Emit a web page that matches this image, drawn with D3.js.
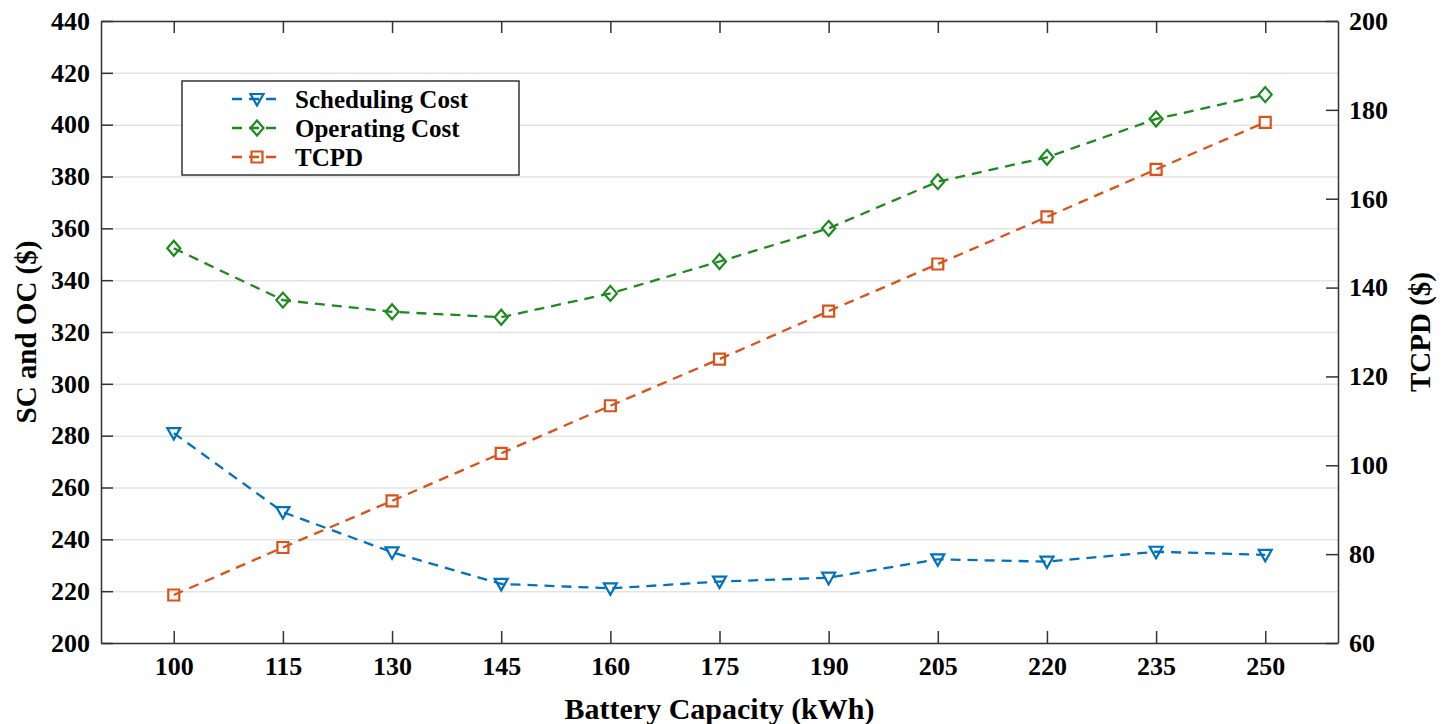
<!DOCTYPE html>
<html>
<head>
<meta charset="utf-8">
<script src="https://cdn.jsdelivr.net/npm/d3@7"></script>
<style>
    body { margin: 0; background: #fff; }
    svg { display: block; }
    text { font-family: "Liberation Serif", "Times New Roman", serif; font-weight: bold; fill: #000; }
</style>
</head>
<body>
<div id="chart"></div>
<script>
// battery capacity (kWh)
var capacity = [100, 115, 130, 145, 160, 175, 190, 205, 220, 235, 250];

// left axis ($)
var schedulingCost = [281, 250.5, 235, 222.8, 221.1, 223.7, 225.2, 232.3, 231.4, 235.2, 234];
var operatingCost = [352.3, 332.3, 327.8, 325.7, 334.9, 347.2, 360, 378, 387.4, 402.2, 411.6];

// right axis ($)
var tcpd = [70.8, 81.5, 92, 102.7, 113.4, 123.9, 134.7, 145.3, 155.9, 166.6, 177.2];

var xTicks = [100, 115, 130, 145, 160, 175, 190, 205, 220, 235, 250];
var leftTicks = d3.range(200, 441, 20);
var rightTicks = d3.range(60, 201, 20);

var W = 1448, H = 724,
    margin = { top: 21, right: 110, bottom: 81, left: 101 },
    width = W - margin.left - margin.right,
    height = H - margin.top - margin.bottom,
    tickLen = 12;

var colors = { sc: '#0072bd', oc: '#1e8a1e', tcpd: '#d95319' };

var svg = d3.select('#chart').append('svg')
    .attr('width', W)
    .attr('height', H);

var g = svg.append('g')
    .attr('transform', 'translate(' + margin.left + ',' + margin.top + ')');

var x = d3.scaleLinear().domain([90, 260]).range([0, width]);
var yL = d3.scaleLinear().domain([200, 440]).range([height, 0]);
var yR = d3.scaleLinear().domain([60, 200]).range([height, 0]);

// horizontal grid on left ticks
g.append('g')
    .attr('class', 'grid')
    .call(d3.axisLeft(yL).tickValues(leftTicks).tickSize(-width).tickFormat(''))
    .call(function (s) {
        s.select('.domain').remove();
        s.selectAll('line').attr('stroke', '#e3e3e3').attr('stroke-width', 1.5);
    });

function styleAxis(s, fontSize) {
    s.select('.domain').attr('stroke', '#333').attr('stroke-width', 1.5);
    s.selectAll('.tick line').attr('stroke', '#333').attr('stroke-width', 1.5);
    s.selectAll('.tick text')
        .attr('fill', '#000')
        .style('font-family', '"Liberation Serif", "Times New Roman", serif')
        .style('font-weight', 'bold')
        .style('font-size', fontSize + 'px');
}

// bottom + top
g.append('g')
    .attr('transform', 'translate(0,' + height + ')')
    .call(d3.axisBottom(x).tickValues(xTicks).tickSizeInner(-tickLen).tickSizeOuter(0).tickPadding(14))
    .call(styleAxis, 26);

g.append('g')
    .call(d3.axisTop(x).tickValues(xTicks).tickSizeInner(-tickLen).tickSizeOuter(0).tickFormat(''))
    .call(styleAxis, 26);

// left + right
g.append('g')
    .call(d3.axisLeft(yL).tickValues(leftTicks).tickSizeInner(-tickLen).tickSizeOuter(0).tickPadding(11))
    .call(styleAxis, 26);

g.append('g')
    .attr('transform', 'translate(' + width + ',0)')
    .call(d3.axisRight(yR).tickValues(rightTicks).tickSizeInner(-tickLen).tickSizeOuter(0).tickPadding(11))
    .call(styleAxis, 26);

// axis titles
svg.append('text')
    .attr('x', margin.left + width / 2)
    .attr('y', H - 5)
    .attr('text-anchor', 'middle')
    .style('font-size', '30px')
    .text('Battery Capacity (kWh)');

svg.append('text')
    .attr('transform', 'translate(36,' + (margin.top + height / 2) + ') rotate(-90)')
    .attr('text-anchor', 'middle')
    .style('font-size', '29px')
    .text('SC and OC ($)');

svg.append('text')
    .attr('transform', 'translate(1430,' + (margin.top + height / 2) + ') rotate(-90)')
    .attr('text-anchor', 'middle')
    .style('font-size', '29px')
    .text('TCPD ($)');

// marker shapes
function markerPath(type) {
    if (type === 'tri') return 'M-6.5,-5L6.5,-5L0,6.5Z';
    if (type === 'dia') return 'M0,-7.5L6.5,0L0,7.5L-6.5,0Z';
    return 'M-5.5,-5.5L5.5,-5.5L5.5,5.5L-5.5,5.5Z';
}

var series = [
    { name: 'Scheduling Cost', values: schedulingCost, y: yL, color: colors.sc, marker: 'tri' },
    { name: 'Operating Cost', values: operatingCost, y: yL, color: colors.oc, marker: 'dia' },
    { name: 'TCPD', values: tcpd, y: yR, color: colors.tcpd, marker: 'sq' }
];

series.forEach(function (s) {
    var pts = capacity.map(function (c, i) { return [c, s.values[i]]; });
    var line = d3.line()
        .x(function (d) { return x(d[0]); })
        .y(function (d) { return s.y(d[1]); });

    g.append('path')
        .datum(pts)
        .attr('d', line)
        .attr('fill', 'none')
        .attr('stroke', s.color)
        .attr('stroke-width', 2.3)
        .attr('stroke-dasharray', '10,7');

    g.selectAll(null)
        .data(pts)
        .enter().append('path')
        .attr('d', markerPath(s.marker))
        .attr('transform', function (d) { return 'translate(' + x(d[0]) + ',' + s.y(d[1]) + ')'; })
        .attr('fill', 'none')
        .attr('stroke', s.color)
        .attr('stroke-width', 2.2);
});

// legend
var legend = svg.append('g').attr('transform', 'translate(182,81)');

legend.append('rect')
    .attr('width', 337)
    .attr('height', 94)
    .attr('fill', '#fff')
    .attr('stroke', '#333')
    .attr('stroke-width', 1.5);

series.forEach(function (s, i) {
    var row = legend.append('g').attr('transform', 'translate(0,' + (18 + i * 29) + ')');
    row.append('line')
        .attr('x1', 50).attr('x2', 96)
        .attr('stroke', s.color)
        .attr('stroke-width', 2.3)
        .attr('stroke-dasharray', '10,7');
    row.append('path')
        .attr('d', markerPath(s.marker))
        .attr('transform', 'translate(75,0)')
        .attr('fill', 'none')
        .attr('stroke', s.color)
        .attr('stroke-width', 2.2);
    row.append('text')
        .attr('x', 113)
        .attr('dy', '0.35em')
        .style('font-size', '25px')
        .text(s.name);
});
</script>
</body>
</html>
